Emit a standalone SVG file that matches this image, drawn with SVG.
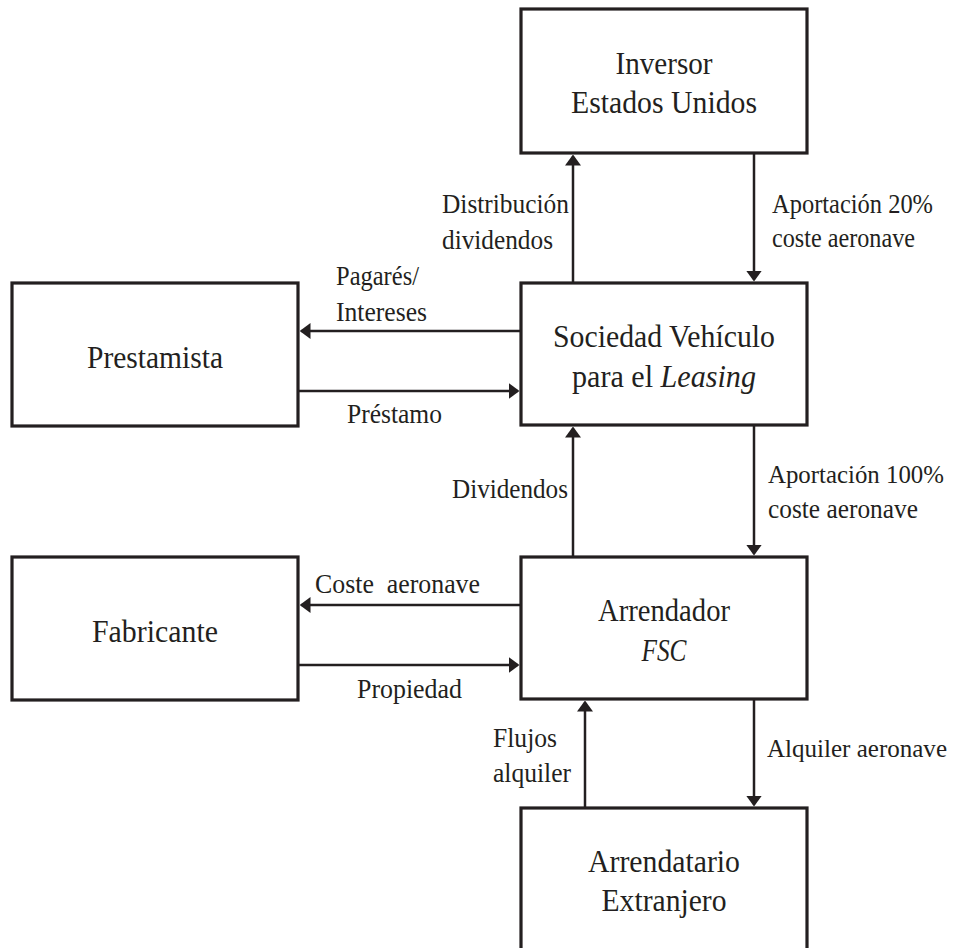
<svg xmlns="http://www.w3.org/2000/svg" width="957" height="948" viewBox="0 0 957 948">
  <style>
    .box { fill: #ffffff; stroke: #231f20; stroke-width: 3.2; }
    .box-text { font-family: "Liberation Serif", "Times New Roman", serif; font-size: 32px; fill: #231f20; text-anchor: middle; }
    .edge { fill: none; stroke: #231f20; stroke-width: 2.5; marker-end: url(#arrow); }
    .edge-text { font-family: "Liberation Serif", "Times New Roman", serif; font-size: 27px; fill: #231f20; }
    .edge-text.narrow { font-size: 25px; }
    .it { font-style: italic; }
  </style>
  <defs>
    <marker id="arrow" markerUnits="userSpaceOnUse" viewBox="0 0 11 16" refX="9" refY="8" markerWidth="11" markerHeight="16" orient="auto">
      <path d="M0,0 L11,8 L0,16 Z" fill="#231f20"/>
    </marker>
  </defs>
  <rect width="957" height="948" fill="#ffffff"/>

  <!-- connectors -->
  <g id="connectors">
    <path class="edge" d="M573,283 V156.5"/>
    <path class="edge" d="M754,153 V279.5"/>
    <path class="edge" d="M521,331 H301.5"/>
    <path class="edge" d="M298,391 H517.5"/>
    <path class="edge" d="M573,557 V428.5"/>
    <path class="edge" d="M754,425 V553.5"/>
    <path class="edge" d="M521,605 H301.5"/>
    <path class="edge" d="M298,665 H517.5"/>
    <path class="edge" d="M585,808 V702.5"/>
    <path class="edge" d="M754,699 V804.5"/>

    <text class="edge-text" x="442" y="213" textLength="127" lengthAdjust="spacingAndGlyphs">Distribución</text>
    <text class="edge-text" x="442" y="249" textLength="111" lengthAdjust="spacingAndGlyphs">dividendos</text>
    <text class="edge-text" x="772" y="213" textLength="161" lengthAdjust="spacingAndGlyphs">Aportación 20%</text>
    <text class="edge-text" x="772" y="247" textLength="143" lengthAdjust="spacingAndGlyphs">coste aeronave</text>
    <text class="edge-text" x="336" y="285" textLength="83" lengthAdjust="spacingAndGlyphs">Pagarés/</text>
    <text class="edge-text" x="336" y="321" textLength="91" lengthAdjust="spacingAndGlyphs">Intereses</text>
    <text class="edge-text" x="347" y="423" textLength="95" lengthAdjust="spacingAndGlyphs">Préstamo</text>
    <text class="edge-text" x="452" y="498" textLength="116" lengthAdjust="spacingAndGlyphs">Dividendos</text>
    <text class="edge-text narrow" x="768" y="483" textLength="176" lengthAdjust="spacingAndGlyphs">Aportación 100%</text>
    <text class="edge-text" x="768" y="518" textLength="150" lengthAdjust="spacingAndGlyphs">coste aeronave</text>
    <text class="edge-text" x="315" y="593" textLength="165" lengthAdjust="spacingAndGlyphs" xml:space="preserve">Coste  aeronave</text>
    <text class="edge-text" x="357" y="698" textLength="105" lengthAdjust="spacingAndGlyphs">Propiedad</text>
    <text class="edge-text" x="493" y="747" textLength="64" lengthAdjust="spacingAndGlyphs">Flujos</text>
    <text class="edge-text" x="493" y="782" textLength="78" lengthAdjust="spacingAndGlyphs">alquiler</text>
    <text class="edge-text narrow" x="767" y="757" textLength="180" lengthAdjust="spacingAndGlyphs">Alquiler aeronave</text>
  </g>

  <!-- nodes -->
  <g id="inversor">
    <rect class="box" x="521" y="9" width="286" height="144"/>
    <text class="box-text" x="664" y="74" textLength="97" lengthAdjust="spacingAndGlyphs">Inversor</text>
    <text class="box-text" x="664" y="113" textLength="186" lengthAdjust="spacingAndGlyphs">Estados Unidos</text>
  </g>
  <g id="sociedad">
    <rect class="box" x="521" y="283" width="286" height="142"/>
    <text class="box-text" x="664" y="347" textLength="222" lengthAdjust="spacingAndGlyphs">Sociedad Vehículo</text>
    <text class="box-text" x="664" y="387" textLength="184" lengthAdjust="spacingAndGlyphs">para el <tspan class="it">Leasing</tspan></text>
  </g>
  <g id="prestamista">
    <rect class="box" x="12" y="283" width="286" height="143"/>
    <text class="box-text" x="155" y="368" textLength="136" lengthAdjust="spacingAndGlyphs">Prestamista</text>
  </g>
  <g id="arrendador">
    <rect class="box" x="521" y="557" width="286" height="142"/>
    <text class="box-text" x="664" y="621" textLength="132" lengthAdjust="spacingAndGlyphs">Arrendador</text>
    <text class="box-text it" x="664" y="661" textLength="45" lengthAdjust="spacingAndGlyphs">FSC</text>
  </g>
  <g id="fabricante">
    <rect class="box" x="12" y="557" width="286" height="143"/>
    <text class="box-text" x="155" y="642" textLength="126" lengthAdjust="spacingAndGlyphs">Fabricante</text>
  </g>
  <g id="arrendatario">
    <rect class="box" x="521" y="808" width="286" height="150"/>
    <text class="box-text" x="664" y="872" textLength="152" lengthAdjust="spacingAndGlyphs">Arrendatario</text>
    <text class="box-text" x="664" y="911" textLength="125" lengthAdjust="spacingAndGlyphs">Extranjero</text>
  </g>
</svg>
